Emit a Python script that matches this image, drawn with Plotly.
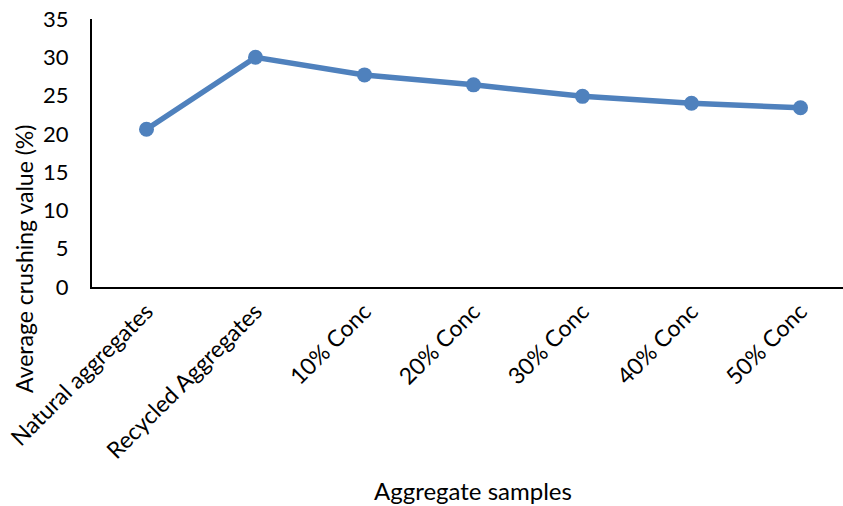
import plotly.graph_objects as go

categories = ["Natural aggregates", "Recycled Aggregates", "10% Conc", "20% Conc",
              "30% Conc", "40% Conc", "50% Conc"]
values = [20.6, 30.0, 27.7, 26.4, 24.9, 24.0, 23.4]
y_ticks = [0, 5, 10, 15, 20, 25, 30, 35]

FONT = "Lato, 'Open Sans', sans-serif"
COLOR = "#4F81BD"

W, H = 843, 506
l, r, t, b = 92, 0, 19, 219
pw, ph = W - l - r, H - t - b


def px_to_paper(px, py):
    return (px - l) / pw, (H - b - py) / ph


fig = go.Figure()
fig.add_trace(go.Scatter(
    x=list(range(len(categories))), y=values, mode="lines+markers",
    line=dict(color=COLOR, width=5.5),
    marker=dict(color=COLOR, size=15),
    showlegend=False, cliponaxis=False,
))

yx, yy = px_to_paper(24, 259)
xx, xy = px_to_paper(473, 490)

fig.update_layout(
    width=W, height=H,
    margin=dict(l=l, r=r, t=t, b=b),
    paper_bgcolor="white", plot_bgcolor="white",
    font=dict(family=FONT, size=22, color="black"),
    xaxis=dict(
        range=[-0.5, 6.39], tickmode="array",
        tickvals=list(range(len(categories))), ticktext=categories,
        tickangle=-45, showgrid=False, zeroline=False,
        showline=True, linecolor="black", linewidth=2, ticks="",
        tickfont=dict(family=FONT, size=23),
    ),
    yaxis=dict(
        range=[0, 35], tickvals=y_ticks, showgrid=False, zeroline=False,
        showline=True, linecolor="black", linewidth=2, ticks="",
        ticklabelstandoff=17, tickfont=dict(family=FONT, size=22),
    ),
    annotations=[
        dict(text="Average crushing value (%)", x=yx, y=yy, xref="paper", yref="paper",
             xanchor="center", yanchor="middle",
             showarrow=False, textangle=-90, font=dict(family=FONT, size=23)),
        dict(text="Aggregate samples", x=xx, y=xy, xref="paper", yref="paper",
             xanchor="center", yanchor="middle", showarrow=False,
             font=dict(family=FONT, size=24)),
    ],
)

fig.write_html("out.html")
